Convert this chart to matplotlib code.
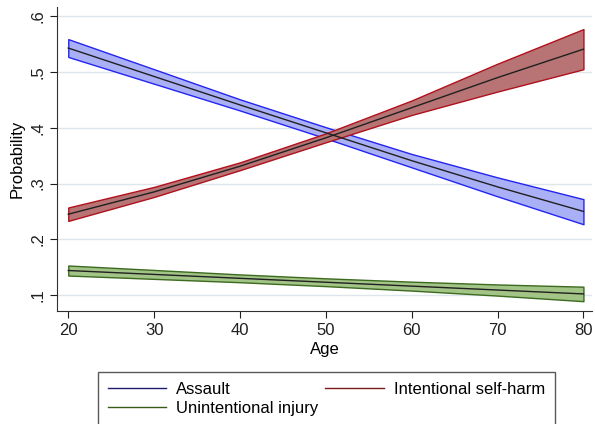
import numpy as np
import matplotlib
matplotlib.use('Agg')
import matplotlib.pyplot as plt

plt.rcParams['font.family'] = ['Liberation Sans', 'DejaVu Sans']

# ages at which the predictions are read
age = [20, 30, 40, 50, 60, 70, 80]

# Assault
assault = [0.543, 0.492, 0.441, 0.391, 0.341, 0.294, 0.250]
assault_lo = [0.527, 0.479, 0.431, 0.381, 0.329, 0.277, 0.227]
assault_hi = [0.559, 0.505, 0.451, 0.401, 0.353, 0.311, 0.272]

# Intentional self-harm
selfharm = [0.245, 0.285, 0.331, 0.382, 0.436, 0.490, 0.541]
selfharm_lo = [0.233, 0.276, 0.324, 0.374, 0.423, 0.465, 0.505]
selfharm_hi = [0.257, 0.294, 0.338, 0.390, 0.449, 0.515, 0.577]

# Unintentional injury
unint = [0.144, 0.137, 0.130, 0.123, 0.116, 0.109, 0.102]
unint_lo = [0.135, 0.129, 0.123, 0.116, 0.108, 0.099, 0.089]
unint_hi = [0.153, 0.145, 0.137, 0.130, 0.124, 0.119, 0.115]

fig = plt.figure(figsize=(5.95, 4.24), dpi=100)
ax = fig.add_axes([0.096, 0.266, 0.899, 0.718])

series = [
    ('Assault', assault, assault_lo, assault_hi, '#aab0f6', '#2424f0', '#1a1a70'),
    ('Intentional self-harm', selfharm, selfharm_lo, selfharm_hi, '#b87474', '#b0101c', '#7a1a1a'),
    ('Unintentional injury', unint, unint_lo, unint_hi, '#a3c487', '#3c6a1e', '#3a5a1a'),
]

handles = {}
for name, mid, lo, hi, fc, ec, lc in series:
    ax.fill_between(age, lo, hi, facecolor=fc, edgecolor=ec, linewidth=1.0, zorder=2)
    ax.plot(age, mid, color='#202020', linewidth=1.0, zorder=3)
    h, = ax.plot([], [], color=lc, linewidth=1.0)
    handles[name] = h

ax.set_xlim(18.7, 81.0)
ax.set_ylim(0.071, 0.617)
ax.set_xticks([20, 30, 40, 50, 60, 70, 80])
ax.set_yticks([0.1, 0.2, 0.3, 0.4, 0.5, 0.6])
ax.set_yticklabels(['.1', '.2', '.3', '.4', '.5', '.6'], rotation=90, va='center')
ax.tick_params(labelsize=12, colors='#202020', length=5)
ax.grid(axis='y', color='#dde6ea', linewidth=1.0, zorder=0)
ax.set_axisbelow(True)
for s in ['top', 'right']:
    ax.spines[s].set_visible(False)
for s in ['left', 'bottom']:
    ax.spines[s].set_color('#303030')

ax.set_xlabel('Age', fontsize=12, labelpad=3)
ax.set_ylabel('Probability', fontsize=12, labelpad=4)

# legend fills column by column, so order gives rows: Assault | Self-harm, Unintentional
order = ['Assault', 'Unintentional injury', 'Intentional self-harm']
fig.legend([handles[n] for n in order], order, ncol=2,
           loc='upper left', bbox_to_anchor=(98 / 595, 1 - 372 / 424, 457 / 595, 0),
           mode='expand', borderaxespad=0, fontsize=12, frameon=True, fancybox=False,
           edgecolor='#303030', handlelength=3.5, handletextpad=0.6,
           borderpad=0.6, labelspacing=0.25)

fig.savefig('out.png', dpi=100, facecolor='white')
